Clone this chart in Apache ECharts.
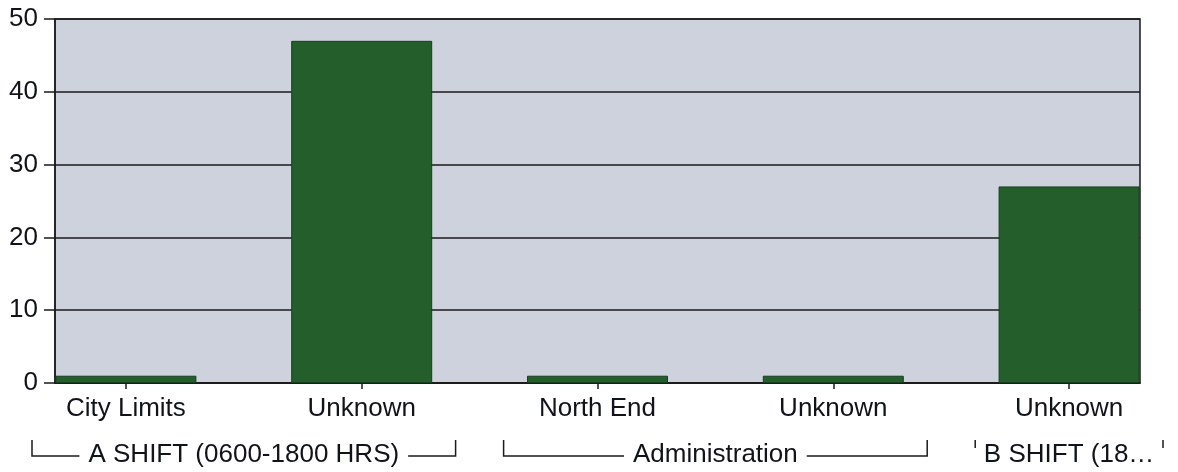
<!DOCTYPE html>
<html>
<head>
<meta charset="utf-8">
<script src="https://cdn.jsdelivr.net/npm/echarts@6/dist/echarts.min.js"></script>
<style>
  html, body { margin: 0; padding: 0; background: #ffffff; }
  #chart { width: 1178px; height: 472px; }
</style>
</head>
<body>
<div id="chart"></div>
<script>
// Incident counts by district, grouped by shift
const categories = ['City Limits', 'Unknown', 'North End', 'Unknown', 'Unknown'];
const counts = [1, 47, 1, 1, 27];
const groupNames = ['A SHIFT (0600-1800 HRS)', 'Administration', 'B SHIFT (18\u2026'];
const groupFirst = [0, 2, 4];
const groupLast = [1, 3, 4];
const yTicks = [0, 10, 20, 30, 40, 50];

const FONT = '"Liberation Sans", Arial, sans-serif';
const FONT_SIZE = 26;
const INK = '#10131a';

const chart = echarts.init(document.getElementById('chart'), null, { renderer: 'canvas' });

chart.setOption({
  animation: false,
  backgroundColor: '#ffffff',
  grid: [
    // plot frame with value axis and gridlines
    { left: 55, right: 38, top: 19, bottom: 89, show: true, outerBoundsMode: 'none',
      backgroundColor: '#cdd2dd', borderColor: '#1a1a1a', borderWidth: 1.5 },
    // category band layout for bars and labels (wider than the frame)
    { left: 8, width: 1179, top: 19, bottom: 89, outerBoundsMode: 'none' }
  ],
  xAxis: [
    { gridIndex: 0, type: 'category', data: categories, boundaryGap: true,
      axisLine: { show: true, lineStyle: { color: '#1a1a1a', width: 1.5 } },
      axisTick: { show: false }, axisLabel: { show: false }, splitLine: { show: false } },
    { gridIndex: 1, type: 'category', data: categories, boundaryGap: true,
      axisLine: { show: false },
      axisTick: { show: true, alignWithLabel: true, length: 6, lineStyle: { color: '#1a1a1a', width: 1.5 } },
      axisLabel: { show: true, interval: 0, color: INK, fontFamily: FONT, fontSize: FONT_SIZE, margin: 13 } }
  ],
  yAxis: [
    { gridIndex: 0, type: 'value', min: yTicks[0], max: yTicks[yTicks.length - 1], interval: 10,
      axisLine: { show: true, lineStyle: { color: '#1a1a1a', width: 1.5 } },
      axisTick: { show: true, length: 11, lineStyle: { color: '#1a1a1a', width: 1.5 } },
      axisLabel: { color: INK, fontFamily: FONT, fontSize: FONT_SIZE, margin: 17 },
      splitLine: { show: true, lineStyle: { color: '#1a1a1a', width: 1.5 } } },
    { gridIndex: 1, type: 'value', min: yTicks[0], max: yTicks[yTicks.length - 1], interval: 10,
      show: false, splitLine: { show: false } }
  ],
  series: [{
    type: 'bar',
    xAxisIndex: 1,
    yAxisIndex: 1,
    data: counts,
    barWidth: 141,
    itemStyle: { color: '#235e2b', borderColor: '#183f1f', borderWidth: 1 }
  }]
});

// Group labels with bracket lines beneath the category labels
function measure(text) {
  const ctx = document.createElement('canvas').getContext('2d');
  ctx.font = FONT_SIZE + 'px ' + FONT;
  return ctx.measureText(text).width;
}

const px = i => chart.convertToPixel({ xAxisIndex: 1 }, i);
const band = px(1) - px(0);
const inset = 24;
const gap = 9;
const textY = 455;
const lineY = 456;
const tickTop = 440;
const graphics = [];
const lineStyle = { stroke: '#1a1a1a', lineWidth: 1.5 };

groupNames.forEach((name, g) => {
  const L = px(groupFirst[g]) - band / 2 + inset;
  const R = px(groupLast[g]) + band / 2 - inset;
  const mid = (L + R) / 2;
  const w = measure(name);
  graphics.push({
    type: 'text', x: mid, y: textY,
    style: { text: name, fill: INK, font: FONT_SIZE + 'px ' + FONT, textAlign: 'center', textVerticalAlign: 'middle' }
  });
  if (w + 2 * gap < R - L) {
    const tl = mid - w / 2 - gap;
    const tr = mid + w / 2 + gap;
    graphics.push({ type: 'polyline', shape: { points: [[L, tickTop], [L, lineY], [tl, lineY]] }, style: lineStyle });
    graphics.push({ type: 'polyline', shape: { points: [[tr, lineY], [R, lineY], [R, tickTop]] }, style: lineStyle });
  } else {
    graphics.push({ type: 'line', shape: { x1: L, y1: tickTop, x2: L, y2: tickTop + 8 }, style: lineStyle });
    graphics.push({ type: 'line', shape: { x1: R, y1: tickTop, x2: R, y2: tickTop + 8 }, style: lineStyle });
  }
});

chart.setOption({ graphic: graphics });
</script>
</body>
</html>
